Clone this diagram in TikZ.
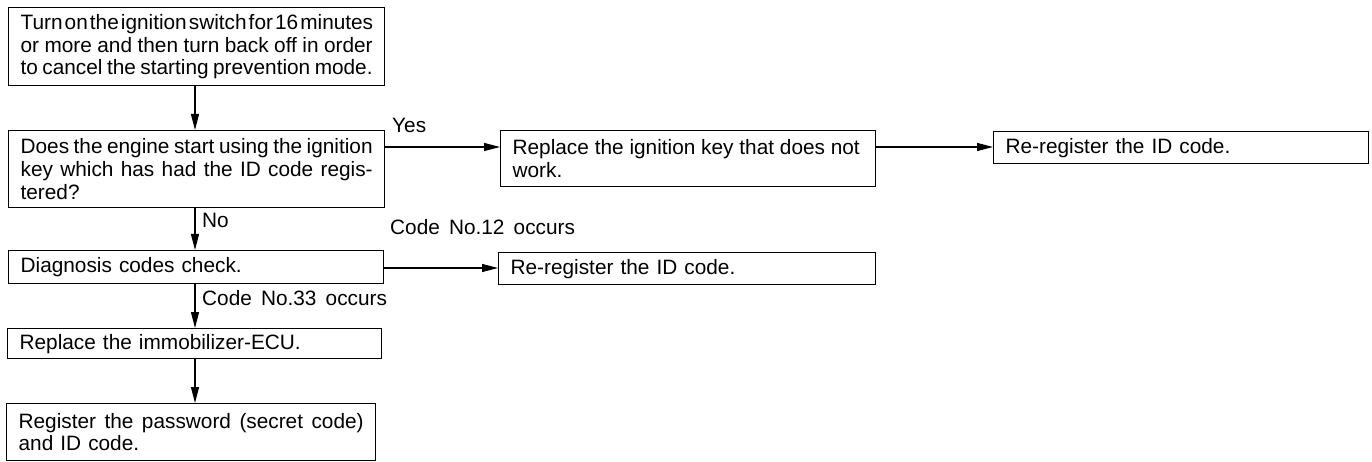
\documentclass[tikz,border=0pt]{standalone}
\usepackage{fontspec}
\setmainfont{Liberation Sans}
\usetikzlibrary{arrows.meta}
\newcommand\jl[1]{\hbox to \hsize{\spaceskip=0.1em plus 1fil\relax #1}}
\newcommand\lline[1]{\hbox to \hsize{#1\hfil}}
\newcommand\sksp{\spaceskip=0.34em plus 0.2em minus 0.1em\relax}
\newcommand\tbox[2]{\vbox{\hsize=#1\sksp\baselineskip=22.8pt #2}}
\begin{document}
\begin{tikzpicture}[x=1pt,y=-1pt,
  txt/.style={font=\fontsize{20.8}{23}\selectfont},
  box/.style={txt, draw, line width=1.3pt, anchor=north west, inner xsep=0pt, inner ysep=0pt},
  lbl/.style={txt, inner sep=0pt, anchor=base west},
  arr/.style={line width=1.1pt, -{Triangle[length=16pt,width=8pt]}}]
\useasboundingbox (0,0) rectangle (1372,462);
\fill[white] (0,0) rectangle (1372,462);

\node[box, minimum width=376pt, minimum height=78pt] (b1) at (8,7)
  {\tbox{352pt}{\jl{Turn on the ignition switch for 16 minutes}\jl{or more and then turn back off in order}\jl{to cancel the starting prevention mode.}}};
\node[box, minimum width=376pt, minimum height=77pt] (b2) at (8,130)
  {\tbox{352pt}{\jl{Does the engine start using the ignition}\jl{key which has had the ID code regis-}\lline{tered?}}};
\node[box, minimum width=375pt, minimum height=33pt] (b3) at (8,250)
  {\tbox{351pt}{\lline{Diagnosis codes check.}}};
\node[box, minimum width=374pt, minimum height=30pt] (b4) at (7,328)
  {\tbox{350pt}{\lline{Replace the immobilizer-ECU.}}};
\node[box, minimum width=369pt, minimum height=57pt] (b5) at (6,403)
  {\tbox{345pt}{\jl{Register the password (secret code)}\lline{and ID code.}}};
\node[box, minimum width=375pt, minimum height=56pt] (bk) at (500,130)
  {\tbox{351pt}{\lline{\spaceskip=0.28em\relax Replace the ignition key that does not}\lline{work.}}};
\node[box, minimum width=375pt, minimum height=32pt] (br1) at (993,131)
  {\tbox{351pt}{\lline{Re-register the ID code.}}};
\node[box, minimum width=377pt, minimum height=32pt] (br2) at (498,252)
  {\tbox{353pt}{\lline{Re-register the ID code.}}};

\coordinate (ax) at (195,0);
\coordinate (hy1) at (0,147);
\coordinate (hy2) at (0,268);

\draw[arr] (b1.south -| ax) -- (b2.north -| ax);
\draw[arr] (b2.south -| ax) -- (b3.north -| ax);
\draw[arr] (b3.south -| ax) -- (b4.north -| ax);
\draw[arr] (b4.south -| ax) -- (b5.north -| ax);
\draw[arr] (b2.east |- hy1) -- (bk.west |- hy1);
\draw[arr] (bk.east |- hy1) -- (br1.west |- hy1);
\draw[arr] (b3.east |- hy2) -- (br2.west |- hy2);

\node[lbl] (yes) at (392,133) {\sksp Yes};
\node[lbl] (no) at (202,228) {\sksp No};
\node[lbl] (c33) at (202,305) {\spaceskip=0.44em\relax Code No.33 occurs};
\node[lbl] (c12) at (390,235) {\spaceskip=0.44em\relax Code No.12 occurs};
\end{tikzpicture}
\end{document}
